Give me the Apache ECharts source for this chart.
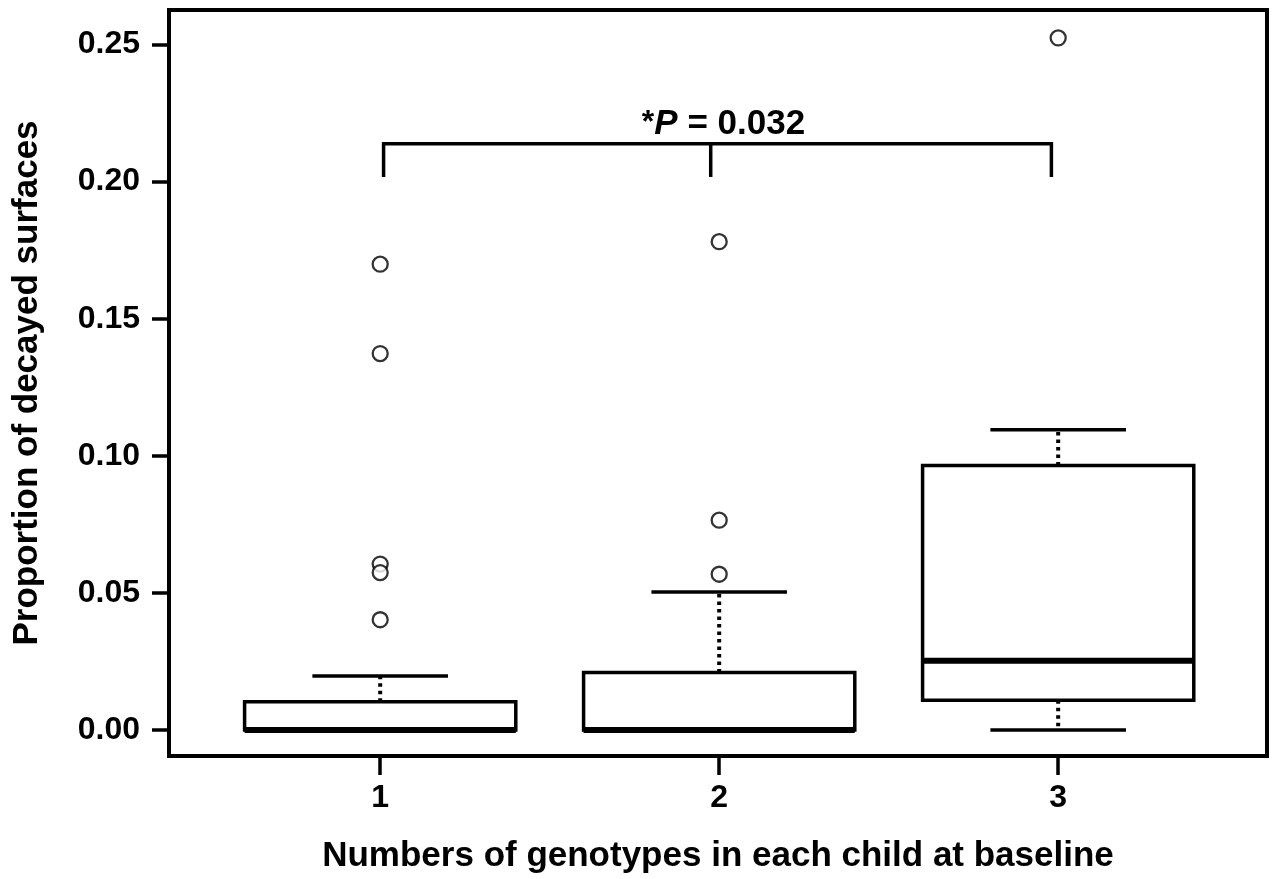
<!DOCTYPE html>
<html>
<head>
<meta charset="utf-8">
<script src="https://cdn.jsdelivr.net/npm/echarts@6/dist/echarts.min.js"></script>
<style>
  html, body { margin: 0; padding: 0; background: #fff; }
  #chart { width: 1273px; height: 879px; }
</style>
</head>
<body>
<div id="chart"></div>
<script>
// groups on the x axis
const groups = [1, 2, 3];
// box stats per group: lower whisker, Q1, median, Q3, upper whisker
const lowWhisker = [0, 0, 0];
const q1 = [0, 0, 0.0108];
const median = [0, 0, 0.0252];
const q3 = [0.0103, 0.021, 0.0965];
const highWhisker = [0.0197, 0.0503, 0.1095];
// outliers [group, value]
const outliers = [
  [1, 0.1699], [1, 0.1373], [1, 0.0605], [1, 0.0574], [1, 0.0402],
  [2, 0.1781], [2, 0.0765], [2, 0.0568],
  [3, 0.2524]
];
// significance bracket (x of left, middle, right legs; y of leg bottom and top)
const bracketX = [1.01, 1.975, 2.98];
const bracketY = [0.2017, 0.2138];
const pLabel = '0.032';

const yTicks = [0, 0.05, 0.10, 0.15, 0.20, 0.25];
const font = 'Liberation Sans';

const chart = echarts.init(document.getElementById('chart'));

const boxData = groups.map((g, i) => [g, lowWhisker[i], q1[i], median[i], q3[i], highWhisker[i]]);

function renderBox(params, api) {
  const x = api.value(0);
  const boxW = api.size([0.8, 0])[0];
  const half = boxW / 2;
  const capHalf = boxW / 4;
  const [cx, yLo] = api.coord([x, api.value(1)]);
  const yQ1 = api.coord([x, api.value(2)])[1];
  const yMed = api.coord([x, api.value(3)])[1];
  const yQ3 = api.coord([x, api.value(4)])[1];
  const yHi = api.coord([x, api.value(5)])[1];
  const solid = { stroke: '#000', lineWidth: 3.5, fill: null };
  const dotted = { stroke: '#000', lineWidth: 4, lineDash: [3.5, 4], lineCap: 'butt' };
  return {
    type: 'group',
    children: [
      { type: 'line', shape: { x1: cx, y1: yQ3, x2: cx, y2: yHi }, style: dotted },
      { type: 'line', shape: { x1: cx, y1: yQ1, x2: cx, y2: yLo }, style: dotted },
      { type: 'line', shape: { x1: cx - capHalf, y1: yHi, x2: cx + capHalf, y2: yHi }, style: solid },
      { type: 'line', shape: { x1: cx - capHalf, y1: yLo, x2: cx + capHalf, y2: yLo }, style: solid },
      { type: 'rect', shape: { x: cx - half, y: yQ3, width: boxW, height: yQ1 - yQ3 }, style: solid },
      { type: 'line', shape: { x1: cx - half, y1: yMed, x2: cx + half, y2: yMed }, style: { stroke: '#000', lineWidth: 6 } }
    ]
  };
}

function renderBracket(params, api) {
  const [xl, yb] = api.coord([bracketX[0], bracketY[0]]);
  const [xm, yt] = api.coord([bracketX[1], bracketY[1]]);
  const xr = api.coord([bracketX[2], bracketY[0]])[0];
  const st = { stroke: '#000', lineWidth: 3.5, fill: null };
  const tx = (xl + xr) / 2 + 6;
  return {
    type: 'group',
    children: [
      { type: 'polyline', shape: { points: [[xl, yb], [xl, yt], [xr, yt], [xr, yb]] }, style: st },
      { type: 'line', shape: { x1: xm, y1: yt, x2: xm, y2: yb }, style: st },
      {
        type: 'text', x: tx, y: yt - 2,
        style: {
          text: '{a|*}{p|P}{n| = ' + pLabel + '}',
          align: 'center', verticalAlign: 'bottom',
          rich: {
            a: { fontFamily: font, fontWeight: 'bold', fontSize: 32, fill: '#000', verticalAlign: 'top' },
            p: { fontFamily: font, fontWeight: 'bold', fontStyle: 'italic', fontSize: 35, fill: '#000' },
            n: { fontFamily: font, fontWeight: 'bold', fontSize: 35, fill: '#000' }
          }
        }
      }
    ]
  };
}

const labelStyle = { color: '#000', fontFamily: font, fontWeight: 'bold', fontSize: 32 };
const titleStyle = { color: '#000', fontFamily: font, fontWeight: 'bold', fontSize: 35 };

chart.setOption({
  animation: false,
  backgroundColor: '#fff',
  grid: {
    left: 169, right: 6, top: 10, bottom: 122,
    show: true, borderColor: '#000', borderWidth: 4, backgroundColor: 'transparent'
  },
  xAxis: {
    type: 'value',
    min: 0.377, max: 3.616,
    name: 'Numbers of genotypes in each child at baseline',
    nameLocation: 'middle',
    nameGap: 83,
    nameTextStyle: titleStyle,
    axisLine: { show: false, onZero: false },
    axisTick: { show: true, inside: false, length: 19, lineStyle: { color: '#000', width: 3.5 }, customValues: groups },
    axisLabel: { ...labelStyle, margin: 26, customValues: groups, formatter: v => String(v) },
    splitLine: { show: false }
  },
  yAxis: {
    type: 'value',
    min: -0.0095, max: 0.2626,
    name: 'Proportion of decayed surfaces',
    nameLocation: 'middle',
    nameGap: 124,
    nameTextStyle: titleStyle,
    axisLine: { show: false, onZero: false },
    axisTick: { show: true, inside: false, length: 17, lineStyle: { color: '#000', width: 3.5 }, customValues: yTicks },
    axisLabel: { ...labelStyle, margin: 29, customValues: yTicks, formatter: v => v.toFixed(2) },
    splitLine: { show: false }
  },
  series: [
    { type: 'custom', renderItem: renderBox, data: boxData, encode: { x: 0, y: [1, 2, 3, 4, 5] }, clip: false },
    {
      type: 'scatter', data: outliers, symbol: 'circle', symbolSize: 15,
      itemStyle: { color: '#fff', borderColor: '#000', borderWidth: 2.3 }
    },
    { type: 'custom', renderItem: renderBracket, data: [[bracketX[1], bracketY[1]]], clip: false }
  ]
});
</script>
</body>
</html>
